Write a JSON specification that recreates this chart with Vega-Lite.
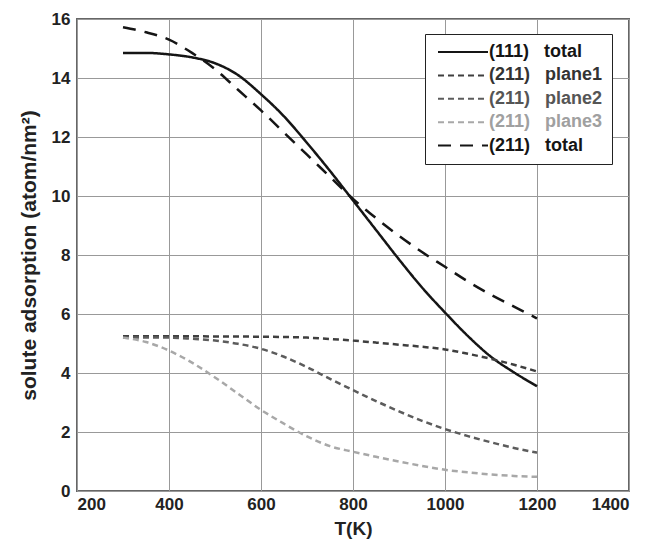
{
  "$schema": "https://vega.github.io/schema/vega-lite/v6.json",
  "autosize": "none",
  "width": 552,
  "height": 472,
  "padding": {"left": 77, "top": 19, "right": 33, "bottom": 61},
  "background": "white",
  "config": {
    "font": "Liberation Sans",
    "view": {"stroke": "#666", "strokeWidth": 2},
    "axis": {
      "grid": true, "gridColor": "#999", "gridWidth": 1,
      "domain": false, "ticks": false,
      "labelFont": "Liberation Sans", "labelFontWeight": "bold", "labelFontSize": 17, "labelColor": "#222",
      "titleFont": "Liberation Sans", "titleFontWeight": "bold", "titleFontSize": 20, "titleColor": "#222"
    }
  },
  "data": {"values": [
    {"T":300,"v":14.85,"s":"(111)\u00a0\u00a0\u00a0total"},
    {"T":350,"v":14.85,"s":"(111)\u00a0\u00a0\u00a0total"},
    {"T":400,"v":14.8,"s":"(111)\u00a0\u00a0\u00a0total"},
    {"T":450,"v":14.7,"s":"(111)\u00a0\u00a0\u00a0total"},
    {"T":500,"v":14.5,"s":"(111)\u00a0\u00a0\u00a0total"},
    {"T":550,"v":14.1,"s":"(111)\u00a0\u00a0\u00a0total"},
    {"T":600,"v":13.45,"s":"(111)\u00a0\u00a0\u00a0total"},
    {"T":650,"v":12.7,"s":"(111)\u00a0\u00a0\u00a0total"},
    {"T":700,"v":11.8,"s":"(111)\u00a0\u00a0\u00a0total"},
    {"T":750,"v":10.85,"s":"(111)\u00a0\u00a0\u00a0total"},
    {"T":800,"v":9.85,"s":"(111)\u00a0\u00a0\u00a0total"},
    {"T":850,"v":8.85,"s":"(111)\u00a0\u00a0\u00a0total"},
    {"T":900,"v":7.85,"s":"(111)\u00a0\u00a0\u00a0total"},
    {"T":950,"v":6.9,"s":"(111)\u00a0\u00a0\u00a0total"},
    {"T":1000,"v":6.05,"s":"(111)\u00a0\u00a0\u00a0total"},
    {"T":1050,"v":5.25,"s":"(111)\u00a0\u00a0\u00a0total"},
    {"T":1100,"v":4.55,"s":"(111)\u00a0\u00a0\u00a0total"},
    {"T":1150,"v":4.02,"s":"(111)\u00a0\u00a0\u00a0total"},
    {"T":1200,"v":3.55,"s":"(111)\u00a0\u00a0\u00a0total"},

    {"T":300,"v":5.25,"s":"(211)\u00a0\u00a0\u00a0plane1"},
    {"T":400,"v":5.25,"s":"(211)\u00a0\u00a0\u00a0plane1"},
    {"T":500,"v":5.24,"s":"(211)\u00a0\u00a0\u00a0plane1"},
    {"T":600,"v":5.23,"s":"(211)\u00a0\u00a0\u00a0plane1"},
    {"T":650,"v":5.22,"s":"(211)\u00a0\u00a0\u00a0plane1"},
    {"T":700,"v":5.2,"s":"(211)\u00a0\u00a0\u00a0plane1"},
    {"T":750,"v":5.15,"s":"(211)\u00a0\u00a0\u00a0plane1"},
    {"T":800,"v":5.1,"s":"(211)\u00a0\u00a0\u00a0plane1"},
    {"T":850,"v":5.03,"s":"(211)\u00a0\u00a0\u00a0plane1"},
    {"T":900,"v":4.96,"s":"(211)\u00a0\u00a0\u00a0plane1"},
    {"T":950,"v":4.89,"s":"(211)\u00a0\u00a0\u00a0plane1"},
    {"T":1000,"v":4.8,"s":"(211)\u00a0\u00a0\u00a0plane1"},
    {"T":1050,"v":4.65,"s":"(211)\u00a0\u00a0\u00a0plane1"},
    {"T":1100,"v":4.48,"s":"(211)\u00a0\u00a0\u00a0plane1"},
    {"T":1150,"v":4.28,"s":"(211)\u00a0\u00a0\u00a0plane1"},
    {"T":1200,"v":4.05,"s":"(211)\u00a0\u00a0\u00a0plane1"},

    {"T":300,"v":5.2,"s":"(211)\u00a0\u00a0\u00a0plane2"},
    {"T":350,"v":5.2,"s":"(211)\u00a0\u00a0\u00a0plane2"},
    {"T":400,"v":5.2,"s":"(211)\u00a0\u00a0\u00a0plane2"},
    {"T":450,"v":5.16,"s":"(211)\u00a0\u00a0\u00a0plane2"},
    {"T":500,"v":5.1,"s":"(211)\u00a0\u00a0\u00a0plane2"},
    {"T":550,"v":4.99,"s":"(211)\u00a0\u00a0\u00a0plane2"},
    {"T":600,"v":4.82,"s":"(211)\u00a0\u00a0\u00a0plane2"},
    {"T":650,"v":4.55,"s":"(211)\u00a0\u00a0\u00a0plane2"},
    {"T":700,"v":4.2,"s":"(211)\u00a0\u00a0\u00a0plane2"},
    {"T":750,"v":3.8,"s":"(211)\u00a0\u00a0\u00a0plane2"},
    {"T":800,"v":3.42,"s":"(211)\u00a0\u00a0\u00a0plane2"},
    {"T":850,"v":3.05,"s":"(211)\u00a0\u00a0\u00a0plane2"},
    {"T":900,"v":2.7,"s":"(211)\u00a0\u00a0\u00a0plane2"},
    {"T":950,"v":2.38,"s":"(211)\u00a0\u00a0\u00a0plane2"},
    {"T":1000,"v":2.1,"s":"(211)\u00a0\u00a0\u00a0plane2"},
    {"T":1050,"v":1.86,"s":"(211)\u00a0\u00a0\u00a0plane2"},
    {"T":1100,"v":1.65,"s":"(211)\u00a0\u00a0\u00a0plane2"},
    {"T":1150,"v":1.46,"s":"(211)\u00a0\u00a0\u00a0plane2"},
    {"T":1200,"v":1.3,"s":"(211)\u00a0\u00a0\u00a0plane2"},

    {"T":300,"v":5.2,"s":"(211)\u00a0\u00a0\u00a0plane3"},
    {"T":350,"v":5.05,"s":"(211)\u00a0\u00a0\u00a0plane3"},
    {"T":400,"v":4.76,"s":"(211)\u00a0\u00a0\u00a0plane3"},
    {"T":450,"v":4.35,"s":"(211)\u00a0\u00a0\u00a0plane3"},
    {"T":500,"v":3.85,"s":"(211)\u00a0\u00a0\u00a0plane3"},
    {"T":550,"v":3.3,"s":"(211)\u00a0\u00a0\u00a0plane3"},
    {"T":600,"v":2.75,"s":"(211)\u00a0\u00a0\u00a0plane3"},
    {"T":650,"v":2.28,"s":"(211)\u00a0\u00a0\u00a0plane3"},
    {"T":700,"v":1.85,"s":"(211)\u00a0\u00a0\u00a0plane3"},
    {"T":750,"v":1.52,"s":"(211)\u00a0\u00a0\u00a0plane3"},
    {"T":800,"v":1.33,"s":"(211)\u00a0\u00a0\u00a0plane3"},
    {"T":850,"v":1.16,"s":"(211)\u00a0\u00a0\u00a0plane3"},
    {"T":900,"v":1.0,"s":"(211)\u00a0\u00a0\u00a0plane3"},
    {"T":950,"v":0.85,"s":"(211)\u00a0\u00a0\u00a0plane3"},
    {"T":1000,"v":0.72,"s":"(211)\u00a0\u00a0\u00a0plane3"},
    {"T":1050,"v":0.63,"s":"(211)\u00a0\u00a0\u00a0plane3"},
    {"T":1100,"v":0.56,"s":"(211)\u00a0\u00a0\u00a0plane3"},
    {"T":1150,"v":0.51,"s":"(211)\u00a0\u00a0\u00a0plane3"},
    {"T":1200,"v":0.48,"s":"(211)\u00a0\u00a0\u00a0plane3"},

    {"T":300,"v":15.72,"s":"(211)\u00a0\u00a0\u00a0total"},
    {"T":350,"v":15.55,"s":"(211)\u00a0\u00a0\u00a0total"},
    {"T":400,"v":15.3,"s":"(211)\u00a0\u00a0\u00a0total"},
    {"T":450,"v":14.85,"s":"(211)\u00a0\u00a0\u00a0total"},
    {"T":500,"v":14.3,"s":"(211)\u00a0\u00a0\u00a0total"},
    {"T":550,"v":13.6,"s":"(211)\u00a0\u00a0\u00a0total"},
    {"T":600,"v":12.9,"s":"(211)\u00a0\u00a0\u00a0total"},
    {"T":650,"v":12.15,"s":"(211)\u00a0\u00a0\u00a0total"},
    {"T":700,"v":11.4,"s":"(211)\u00a0\u00a0\u00a0total"},
    {"T":750,"v":10.65,"s":"(211)\u00a0\u00a0\u00a0total"},
    {"T":800,"v":9.9,"s":"(211)\u00a0\u00a0\u00a0total"},
    {"T":850,"v":9.25,"s":"(211)\u00a0\u00a0\u00a0total"},
    {"T":900,"v":8.65,"s":"(211)\u00a0\u00a0\u00a0total"},
    {"T":950,"v":8.1,"s":"(211)\u00a0\u00a0\u00a0total"},
    {"T":1000,"v":7.6,"s":"(211)\u00a0\u00a0\u00a0total"},
    {"T":1050,"v":7.1,"s":"(211)\u00a0\u00a0\u00a0total"},
    {"T":1100,"v":6.65,"s":"(211)\u00a0\u00a0\u00a0total"},
    {"T":1150,"v":6.25,"s":"(211)\u00a0\u00a0\u00a0total"},
    {"T":1200,"v":5.85,"s":"(211)\u00a0\u00a0\u00a0total"}
  ]},
  "mark": {"type": "line", "interpolate": "monotone", "strokeWidth": 2.5},
  "encoding": {
    "x": {"field": "T", "type": "quantitative", "title": "T(K)",
      "scale": {"domain": [200, 1400], "nice": false},
      "axis": {"values": [200,400,600,800,1000,1200,1400], "format": "d", "labelPadding": 5, "titleFontSize": 19, "titlePadding": 7}},
    "y": {"field": "v", "type": "quantitative", "title": "solute adsorption (atom/nm²)",
      "scale": {"domain": [0, 16], "nice": false},
      "axis": {"values": [0,2,4,6,8,10,12,14,16], "labelPadding": 7, "titlePadding": 12, "titleFontSize": 21}},
    "color": {"field": "s", "type": "nominal", "title": null,
      "scale": {
        "domain": ["(111)\u00a0\u00a0\u00a0total","(211)\u00a0\u00a0\u00a0plane1","(211)\u00a0\u00a0\u00a0plane2","(211)\u00a0\u00a0\u00a0plane3","(211)\u00a0\u00a0\u00a0total"],
        "range": ["#151515","#3f3f3f","#5c5c5c","#a8a8a8","#151515"]},
      "legend": {
        "orient": "none", "legendX": 348, "legendY": 15,
        "symbolType": "M-1,0H9", "symbolSize": 100, "symbolStrokeWidth": 2,
        "labelFont": "Liberation Sans", "labelFontWeight": "bold", "labelFontSize": 18,
        "labelOffset": 37,
        "fillColor": "white", "strokeColor": "#222", "padding": 9, "rowPadding": 5.4,
        "encode": {"labels": {"update": {"fill": {"signal": "indexof(datum.value,'plane3') >= 0 ? '#a0a0a0' : (indexof(datum.value,'plane2') >= 0 ? '#555' : (indexof(datum.value,'plane1') >= 0 ? '#333' : '#151515'))"}}}}
      }},
    "strokeDash": {"field": "s", "type": "nominal", "title": null,
      "scale": {
        "domain": ["(111)\u00a0\u00a0\u00a0total","(211)\u00a0\u00a0\u00a0plane1","(211)\u00a0\u00a0\u00a0plane2","(211)\u00a0\u00a0\u00a0plane3","(211)\u00a0\u00a0\u00a0total"],
        "range": [[1,0],[6,4],[6,4],[6,4],[13,9]]}}
  }
}
